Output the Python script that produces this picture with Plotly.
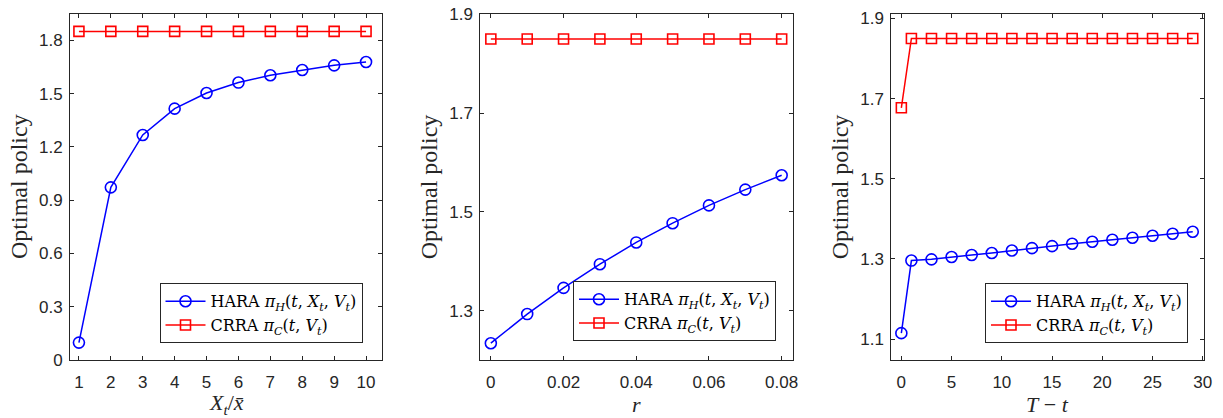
import plotly.graph_objects as go

# page has an 8px body margin, so the figure is placed at (8, 8)
OFF = 8
W, H = 1223 - OFF, 418 - OFF

# ---------------- data ----------------
x1 = [1, 2, 3, 4, 5, 6, 7, 8, 9, 10]
hara1 = [0.098, 0.972, 1.267, 1.415, 1.503, 1.562, 1.603, 1.633, 1.659, 1.678]
crra1 = [1.85] * 10

x2 = [0, 0.01, 0.02, 0.03, 0.04, 0.05, 0.06, 0.07, 0.08]
hara2 = [1.234, 1.293, 1.346, 1.394, 1.438, 1.477, 1.513, 1.545, 1.574]
crra2 = [1.85] * 9

x3 = [0, 1, 3, 5, 7, 9, 11, 13, 15, 17, 19, 21, 23, 25, 27, 29]
hara3 = [1.115, 1.296, 1.299, 1.305, 1.310, 1.315, 1.321, 1.327, 1.332,
         1.338, 1.343, 1.348, 1.353, 1.358, 1.363, 1.368]
crra3 = [1.677] + [1.85] * 15

y1_ticks = [0, 0.3, 0.6, 0.9, 1.2, 1.5, 1.8]
y1_text = ["0", "0.3", "0.6", "0.9", "1.2", "1.5", "1.8"]
x1_ticks = [1, 2, 3, 4, 5, 6, 7, 8, 9, 10]
y2_ticks = [1.3, 1.5, 1.7, 1.9]
y2_text = ["1.3", "1.5", "1.7", "1.9"]
x2_ticks = [0, 0.02, 0.04, 0.06, 0.08]
x2_text = ["0", "0.02", "0.04", "0.06", "0.08"]
y3_ticks = [1.1, 1.3, 1.5, 1.7, 1.9]
y3_text = ["1.1", "1.3", "1.5", "1.7", "1.9"]
x3_ticks = [0, 5, 10, 15, 20, 25, 30]

hara_name = "HARA <i>π</i><sub><i>H</i></sub>(<i>t</i>, <i>X</i><sub><i>t</i></sub>, <i>V</i><sub><i>t</i></sub>)"
crra_name = "CRRA <i>π</i><sub><i>C</i></sub>(<i>t</i>, <i>V</i><sub><i>t</i></sub>)"
xlabels = ["<i>X</i><sub><i>t</i></sub>/<i>x̄</i>", "<i>r</i>", "<i>T</i> − <i>t</i>"]
ylabel = "Optimal policy"

# ---------------- layout geometry (reference pixels) ----------------
xdom_px = [(70, 382), (480.3, 793.3), (891.3, 1204)]
ydom_px = (14, 360)
xranges = [[0.72, 10.5], [-0.0029, 0.0832], [-1.0, 30.12]]
yranges = [[0, 1.948], [1.2, 1.9005], [1.048, 1.911]]
legend_px = [(362.5, 343.3), (776, 341.3), (1188, 343.3)]


def px_x(p):
    return (p - OFF) / W


def px_y(p):
    return 1 - (p - OFF) / H


BLUE = "#0000ff"
RED = "#ff0000"
AXC = "#262626"
TICKFONT = dict(family="Liberation Sans, Arial, sans-serif", size=17, color=AXC)
SERIF = "Liberation Serif, Times New Roman, serif"
LEGSERIF = "DejaVu Serif, serif"

fig = go.Figure()

datasets = [(x1, hara1, crra1), (x2, hara2, crra2), (x3, hara3, crra3)]
for i, (xs, h, c) in enumerate(datasets):
    sfx = "" if i == 0 else str(i + 1)
    leg = "legend" if i == 0 else f"legend{i + 1}"
    fig.add_trace(go.Scatter(
        x=xs, y=h, mode="lines+markers", name=hara_name,
        xaxis="x" + sfx, yaxis="y" + sfx, legend=leg,
        line=dict(color=BLUE, width=1.5),
        marker=dict(symbol="circle-open", size=11, color=BLUE, line=dict(width=1.6, color=BLUE)),
    ))
    fig.add_trace(go.Scatter(
        x=xs, y=c, mode="lines+markers", name=crra_name,
        xaxis="x" + sfx, yaxis="y" + sfx, legend=leg,
        line=dict(color=RED, width=1.5),
        marker=dict(symbol="square-open", size=10, color=RED, line=dict(width=1.6, color=RED)),
    ))

layout = dict(
    width=W, height=H,
    margin=dict(l=0, r=0, t=0, b=0),
    paper_bgcolor="white", plot_bgcolor="white",
    showlegend=True,
    font=dict(family=SERIF, color="black"),
)

ytick_sets = [(y1_ticks, y1_text), (y2_ticks, y2_text), (y3_ticks, y3_text)]
xtick_sets = [(x1_ticks, [str(v) for v in x1_ticks]), (x2_ticks, x2_text),
              (x3_ticks, [str(v) for v in x3_ticks])]

annotations = []
for i in range(3):
    sfx = "" if i == 0 else str(i + 1)
    x0, x1p = xdom_px[i]
    xd = [px_x(x0), px_x(x1p)]
    yd = [px_y(ydom_px[1]), px_y(ydom_px[0])]
    common = dict(showline=True, linecolor=AXC, linewidth=1, mirror="ticks",
                  ticks="inside", ticklen=4, tickcolor=AXC, tickwidth=1,
                  showgrid=False, zeroline=False, tickfont=TICKFONT,
                  automargin=False, fixedrange=True, ticklabeloverflow="allow")
    layout["xaxis" + sfx] = dict(domain=xd, range=xranges[i],
                                 anchor="y" + sfx,
                                 tickvals=xtick_sets[i][0], ticktext=xtick_sets[i][1],
                                 ticklabelstandoff=7, **common)
    layout["yaxis" + sfx] = dict(domain=yd, range=yranges[i],
                                 anchor="x" + sfx,
                                 tickvals=ytick_sets[i][0], ticktext=ytick_sets[i][1],
                                 ticklabelstandoff=3, **common)
    lx, ly = legend_px[i]
    legname = "legend" if i == 0 else f"legend{i + 1}"
    layout[legname] = dict(
        x=px_x(lx), y=px_y(ly), xanchor="right", yanchor="bottom",
        xref="paper", yref="paper",
        bgcolor="white", bordercolor="#262626", borderwidth=1,
        font=dict(family=LEGSERIF, size=16, color="black"),
        tracegroupgap=0, itemwidth=40,
    )
    # x-axis title
    annotations.append(dict(
        text=xlabels[i], x=px_x((x0 + x1p) / 2), y=px_y(404),
        xref="paper", yref="paper", showarrow=False,
        xanchor="center", yanchor="middle",
        font=dict(family=SERIF, size=22, color=AXC),
    ))
    # y-axis title
    annotations.append(dict(
        text=ylabel, x=px_x(x0 - 51), y=px_y(187),
        xref="paper", yref="paper", showarrow=False, textangle=-90,
        xanchor="center", yanchor="middle",
        font=dict(family=SERIF, size=24, color=AXC),
    ))

layout["annotations"] = annotations
fig.update_layout(**layout)

fig.write_html("out.html")
